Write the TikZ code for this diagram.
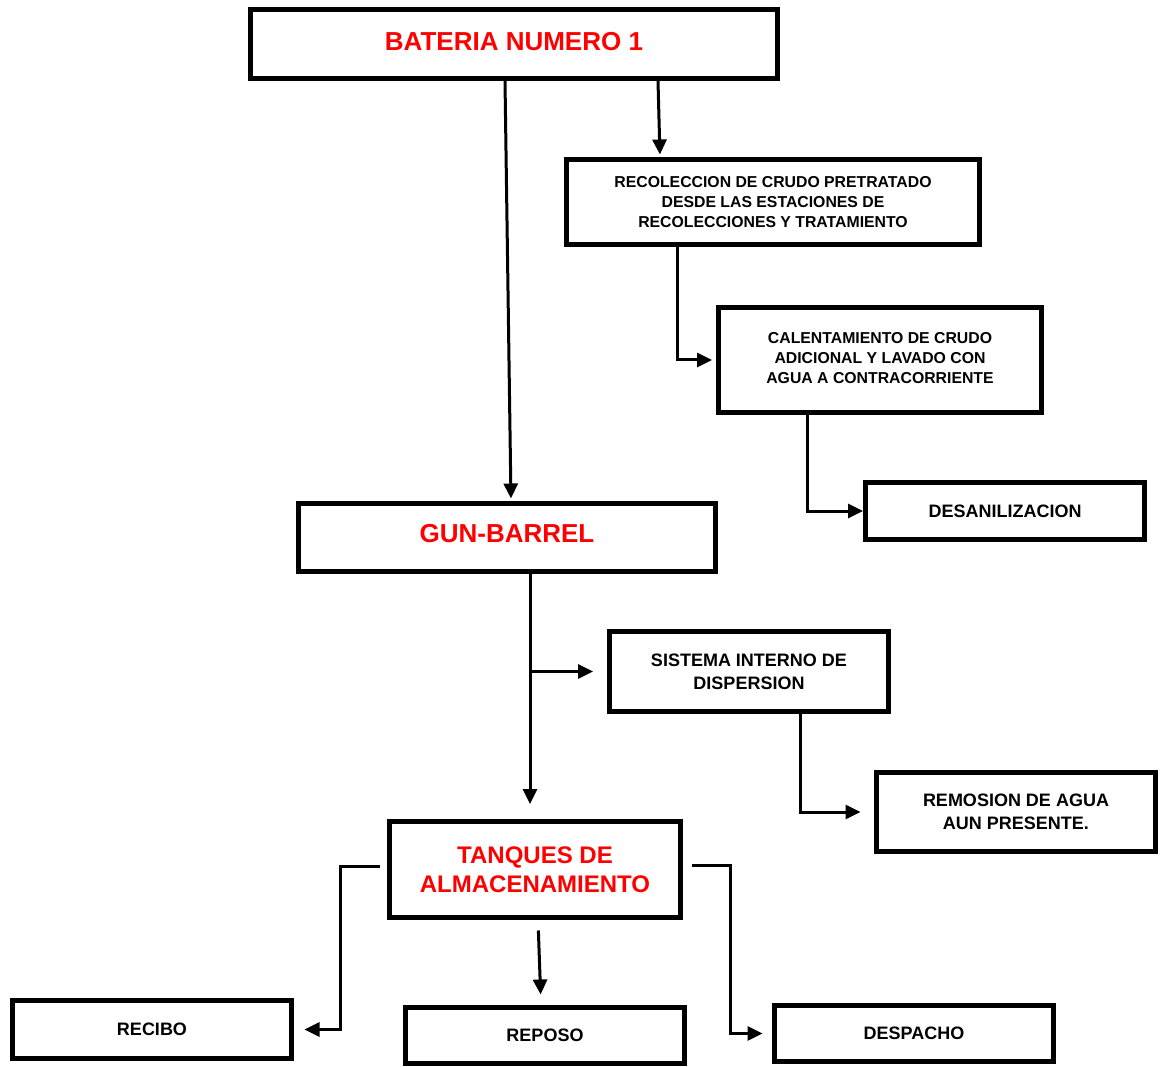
\documentclass[tikz,border=0pt]{standalone}
\usepackage{fontspec}
\setmainfont{Liberation Sans}
\usetikzlibrary{arrows.meta}
\definecolor{titlered}{RGB}{255,0,0}
\begin{document}
\begin{tikzpicture}[x=1pt,y=-1pt,
  box/.style={draw=black, line width=5pt, fill=white, rectangle, align=center, inner sep=0pt},
  bigtxt/.style={font=\bfseries\fontsize{26}{30}\selectfont, text=titlered},
  midtxt/.style={font=\bfseries\fontsize{24}{29}\selectfont, text=titlered},
  stdtxt/.style={font=\bfseries\fontsize{18}{23}\selectfont},
  smalltxt/.style={font=\bfseries\fontsize{15.8}{20}\selectfont},
  conn/.style={draw=black, line width=3pt, -{Triangle[length=15pt,width=14pt]}}]
\useasboundingbox (0,0) rectangle (1160,1067);

% boxes
\node[box, bigtxt, text depth=6pt, minimum width=527pt, minimum height=69pt] (bat) at (514,44) {BATERIA NUMERO 1};
\node[box, smalltxt, minimum width=413pt, minimum height=85pt] (rec) at (773,202)
  {RECOLECCION DE CRUDO PRETRATADO\\DESDE LAS ESTACIONES DE\\RECOLECCIONES Y TRATAMIENTO};
\node[box, smalltxt, text depth=4pt, minimum width=323pt, minimum height=105pt] (cal) at (880,360)
  {CALENTAMIENTO DE CRUDO\\ADICIONAL Y LAVADO CON\\AGUA A CONTRACORRIENTE};
\node[box, stdtxt, minimum width=279pt, minimum height=57pt] (des) at (1005,511) {DESANILIZACION};
\node[box, bigtxt, text depth=8pt, minimum width=417pt, minimum height=68pt] (gb) at (507,537.5) {GUN-BARREL};
\node[box, stdtxt, minimum width=279pt, minimum height=80pt] (sis) at (749,671.5)
  {SISTEMA INTERNO DE\\DISPERSION};
\node[box, stdtxt, minimum width=279pt, minimum height=79pt] (rem) at (1016,812)
  {REMOSION DE AGUA\\AUN PRESENTE.};
\node[box, midtxt, minimum width=291pt, minimum height=96pt] (tan) at (535,869.5)
  {TANQUES DE\\ALMACENAMIENTO};
\node[box, stdtxt, minimum width=279pt, minimum height=58pt] (rcb) at (152,1029.5) {RECIBO};
\node[box, stdtxt, minimum width=279pt, minimum height=56pt] (rep) at (545,1035.5) {REPOSO};
\node[box, stdtxt, minimum width=279pt, minimum height=56pt] (dsp) at (914,1033.5) {DESPACHO};

% connectors
\draw[conn, shorten >=2.5pt] ([xshift=-9pt]bat.south) -- ([xshift=4pt]gb.north);
\draw[conn, shorten >=2.5pt] ([xshift=144pt]bat.south) -- ([xshift=-113pt]rec.north);
\draw[conn, shorten >=4pt] ([xshift=-96pt]rec.south) |- (cal.west);
\draw[conn] ([xshift=-73pt]cal.south) |- (des.west);
\draw[conn, shorten >=15pt] ([xshift=23pt]gb.south) -- ([xshift=-5pt]tan.north);
\draw[conn, shorten >=14pt] ([xshift=23pt]gb.south) |- (sis.west);
\draw[conn, shorten >=13.5pt] ([xshift=51pt]sis.south) |- (rem.west);
\draw[conn, shorten <=7pt, shorten >=10.5pt] ([yshift=3.5pt]tan.west) -- ++(-47,0) |- (rcb.east);
\draw[conn, shorten <=10.5pt, shorten >=10.5pt] ([xshift=3pt]tan.south) -- ([xshift=-4pt]rep.north);
\draw[conn, shorten <=8.5pt, shorten >=9.5pt] ([yshift=4.5pt]tan.east) -- ++(47,0) |- (dsp.west);
\end{tikzpicture}
\end{document}
